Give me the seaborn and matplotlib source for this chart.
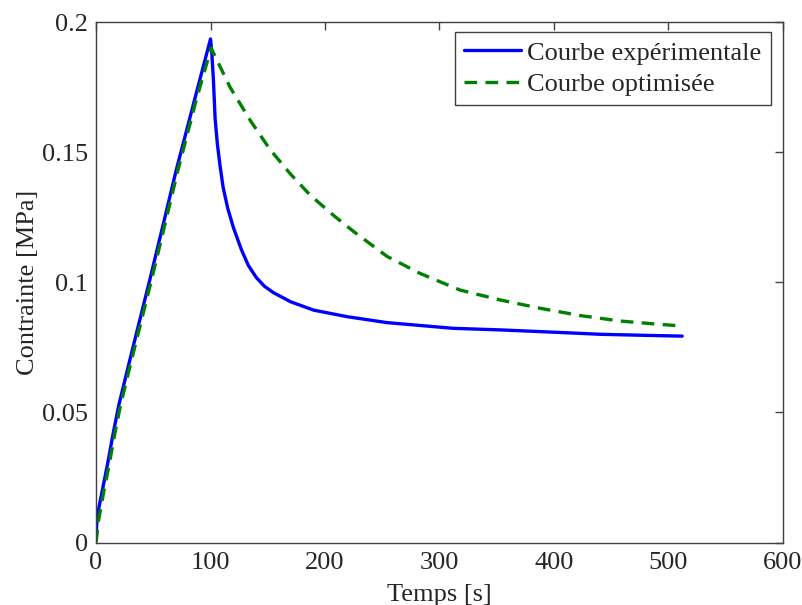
import matplotlib
matplotlib.use("Agg")
import matplotlib.pyplot as plt
import seaborn as sns
import pandas as pd

# ---- data ----
t_exp = [0, 1, 5, 10, 15, 20, 30, 47, 58, 70, 86, 100, 101, 102.5, 104, 106,
         108.4, 111, 115, 120, 127, 133, 140, 147, 155, 170, 190, 219, 254, 312,
         353, 411, 441, 480, 512]
s_exp = [0.002, 0.010, 0.019, 0.030, 0.042, 0.053, 0.071, 0.101, 0.121, 0.143,
         0.170, 0.1935, 0.189, 0.178, 0.163, 0.153, 0.1445, 0.1365, 0.1285,
         0.1210, 0.1125, 0.1065, 0.1018, 0.0985, 0.0960, 0.0925, 0.0893, 0.0868,
         0.0845, 0.0823, 0.0817, 0.0806, 0.0800, 0.0796, 0.0793]

t_opt = [0, 2, 6.5, 11.5, 16.5, 21.5, 31.5, 48.5, 59.5, 71.5, 87.5, 100.5, 117,
         135, 152, 170, 187, 208, 225, 254, 283, 318, 353, 388, 423, 458,
         493, 512]
s_opt = [0.0, 0.008, 0.019, 0.030, 0.042, 0.053, 0.071, 0.101, 0.121, 0.143,
         0.170, 0.190, 0.175, 0.162, 0.151, 0.1415, 0.1335, 0.1255, 0.1195,
         0.1100, 0.1034, 0.0970, 0.0932, 0.0900, 0.0872, 0.0851, 0.0838, 0.0832]

label_exp = "Courbe expérimentale"
label_opt = "Courbe optimisée"
x_ticks = [0, 100, 200, 300, 400, 500, 600]
y_ticks = [0, 0.05, 0.1, 0.15, 0.2]
y_tick_labels = ["0", "0.05", "0.1", "0.15", "0.2"]

sns.set_style("white")
plt.rcParams["font.family"] = ["Liberation Serif", "DejaVu Serif"]
FS = 19
plt.rcParams["font.size"] = FS

fig = plt.figure(figsize=(8.03, 6.05), dpi=100)
ax = fig.add_axes([0.1196, 0.1033, 0.8554, 0.8603])

df_exp = pd.DataFrame({"t": t_exp, "s": s_exp})
df_opt = pd.DataFrame({"t": t_opt, "s": s_opt})

sns.lineplot(data=df_exp, x="t", y="s", ax=ax, color=(0, 0, 1), lw=2.4,
             sort=False, estimator=None, label=label_exp)
sns.lineplot(data=df_opt, x="t", y="s", ax=ax, color=(0, 0.5, 0), lw=2.4,
             sort=False, estimator=None, label=label_opt)
ax.lines[1].set_dashes((3.8, 2.5))

ax.set_xlim(0, 600)
ax.set_ylim(0, 0.2)
ax.set_xticks(x_ticks)
ax.set_xticklabels([str(v) for v in x_ticks])
ax.set_yticks(y_ticks)
ax.set_yticklabels(y_tick_labels)
ax.set_xlabel("Temps [s]", fontsize=FS, labelpad=7.5)
ax.set_ylabel("Contrainte [MPa]", fontsize=FS, labelpad=2)

spine_c = "0.25"
for sp in ax.spines.values():
    sp.set_visible(True)
    sp.set_color(spine_c)
    sp.set_linewidth(1.0)
ax.tick_params(direction="in", length=6, width=1.0, color=spine_c,
               top=True, right=True, labelsize=FS)
ax.tick_params(axis="x", pad=6.5)
ax.tick_params(axis="y", pad=6)

leg = ax.legend(loc="upper right", bbox_to_anchor=(0.9825, 0.981),
                fancybox=False, shadow=False, frameon=True, fontsize=FS,
                handlelength=2.15, handletextpad=0.25, labelspacing=0.3,
                borderpad=0.35, borderaxespad=0.0)
leg.get_frame().set_edgecolor("0.25")
leg.get_frame().set_linewidth(1.0)
leg.get_frame().set_alpha(1)

fig.savefig("out.png", dpi=100, facecolor="white")
